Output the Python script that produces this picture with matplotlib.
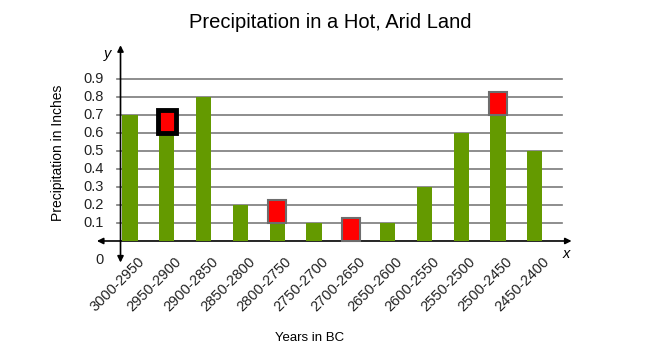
import matplotlib.pyplot as plt
from matplotlib.patches import Rectangle

plt.rcParams['font.family'] = ['Liberation Sans', 'DejaVu Sans']

# data
periods = ['3000-2950', '2950-2900', '2900-2850', '2850-2800', '2800-2750', '2750-2700',
           '2700-2650', '2650-2600', '2600-2550', '2550-2500', '2500-2450', '2450-2400']
precip = [0.7, 0.6, 0.8, 0.2, 0.1, 0.1, 0.0, 0.1, 0.3, 0.6, 0.7, 0.5]
handle_bars = [1, 4, 6, 10]   # bars that show a red drag handle
selected_bar = 1
y_ticks = [0.1, 0.2, 0.3, 0.4, 0.5, 0.6, 0.7, 0.8, 0.9]

green = '#649a00'

fig = plt.figure(figsize=(6.57, 3.57), dpi=100)
ax = fig.add_axes([80 / 657, 1 - 270 / 357, 520 / 657, 230 / 357])
ax.set_xlim(-1.359, 12.772)
ax.set_ylim(-0.1615, 1.119)
ax.axis('off')

# gridlines
for t in y_ticks:
    ax.plot([-0.353, 11.74], [t, t], color='#7a7a7a', lw=1.2, zorder=1)
    ax.text(-0.72, t, f'{t:.1f}', ha='right', va='center', fontsize=10.5, color='#222222')
ax.text(-0.82, -0.105, '0', ha='center', va='center', fontsize=10.5, color='#222222')

# axes with arrows
ax.annotate('', xy=(12.0, 0), xytext=(-0.9, 0),
            arrowprops=dict(arrowstyle='<|-|>', color='black', lw=1.2,
                            mutation_scale=9, shrinkA=0, shrinkB=0), zorder=2)
ax.annotate('', xy=(-0.258, 1.09), xytext=(-0.258, -0.12),
            arrowprops=dict(arrowstyle='<|-|>', color='black', lw=1.2,
                            mutation_scale=9, shrinkA=0, shrinkB=0), zorder=2)

# bars
x = list(range(len(periods)))
ax.bar(x, precip, width=0.41, color=green, zorder=3)

# drag handles
for i in handle_bars:
    if i == selected_bar:
        ec, lw = 'black', 3.5
    else:
        ec, lw = '#6d6d6d', 1.5
    ax.add_patch(Rectangle((i - 0.245, precip[i]), 0.49, 0.13, facecolor='#ff0000',
                           edgecolor=ec, lw=lw, zorder=4))

# category labels
for i, lab in zip(x, periods):
    ax.text(i + 0.2, -0.075, lab, ha='right', va='top', rotation=45,
            rotation_mode='anchor', fontsize=10.5, color='#222222')

ax.text(11.86, -0.07, 'x', ha='center', va='center', fontsize=10.5, style='italic')
ax.text(-0.6, 1.04, 'y', ha='center', va='center', fontsize=10.5, style='italic')

fig.text(330 / 657, 1 - 22 / 357, 'Precipitation in a Hot, Arid Land',
         ha='center', va='center', fontsize=14.5)
fig.text(58 / 657, 1 - 153 / 357, 'Precipitation in Inches', rotation=90,
         ha='center', va='center', fontsize=10)
fig.text(310 / 657, 1 - 338 / 357, 'Years in BC', ha='center', va='center', fontsize=9.5)

fig.savefig('out.png', dpi=100)
